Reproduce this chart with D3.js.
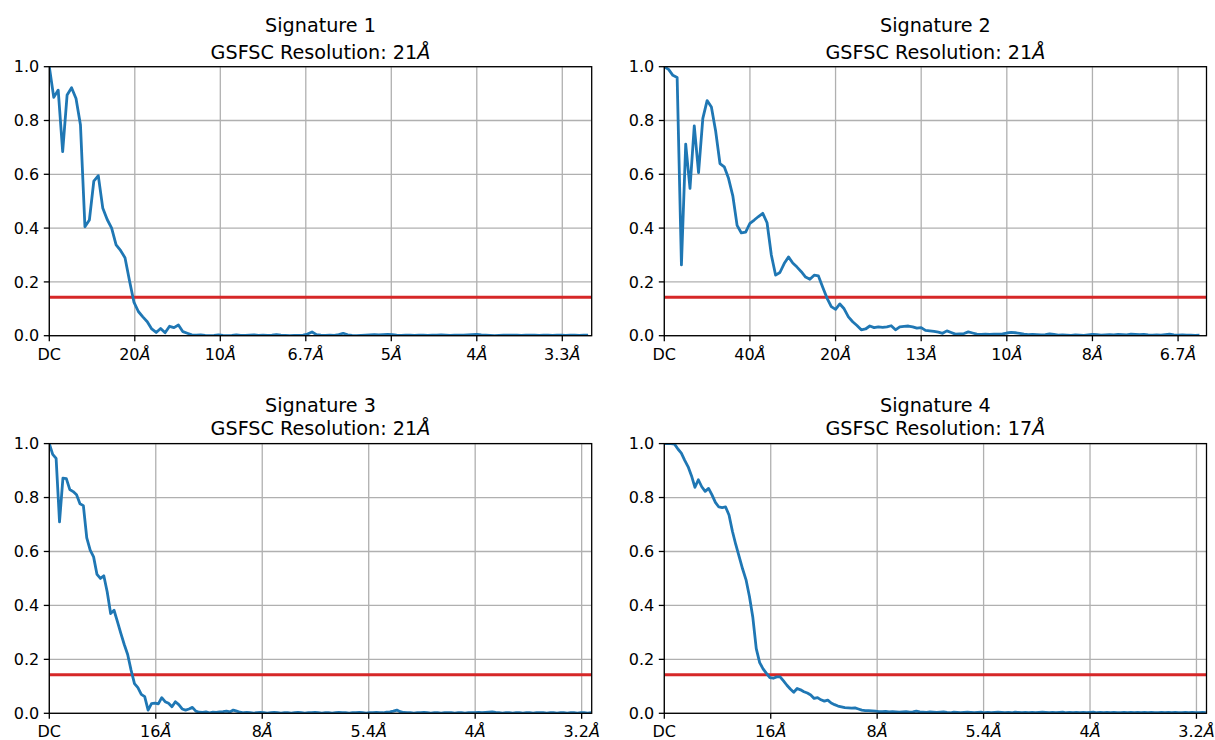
<!DOCTYPE html>
<html>
<head>
<meta charset="utf-8">
<script src="https://cdn.jsdelivr.net/npm/d3@7"></script>
<style>
  body { margin: 0; background: #ffffff; }
  svg { display: block; }
</style>
</head>
<body>
<svg id="fig" width="1215" height="740"></svg>
<script>
// Gold-standard FSC curves for four signatures, FSC = 0.143 cut-off shown in red.
const fscThreshold = 0.143;
const fscTicks = [0, 0.2, 0.4, 0.6, 0.8, 1.0];

// ---- Signature 1 ----
const sig1Title = "Signature 1";
const sig1Resolution = "21";
const sig1FreqStep = 1 / 384;        // Å⁻¹ per shell
const sig1FreqMax = 0.3172;
const sig1TickFreqs = [0, 0.05, 0.10, 0.15, 0.20, 0.25, 0.30];
const sig1TickLabels = ["DC", "20", "10", "6.7", "5", "4", "3.3"];
const sig1Fsc = [
  1.000, 0.886, 0.913, 0.684, 0.895, 0.922, 0.882, 0.783, 0.405, 0.430,
  0.575, 0.595, 0.475, 0.432, 0.400, 0.338, 0.317, 0.290, 0.205, 0.125,
  0.090, 0.070, 0.052, 0.025, 0.012, 0.027, 0.011, 0.035, 0.030, 0.040,
  0.015, 0.009, 0.003, 0.002, 0.003, 0.001, 0.000, 0.001, 0.003, 0.001,
  0.000, 0.001, 0.003, 0.001, 0.001, 0.002, 0.003, 0.001, 0.002, 0.001,
  0.002, 0.004, 0.002, 0.001, 0.000, 0.001, 0.001, 0.002, 0.006, 0.014,
  0.004, 0.002, 0.001, 0.002, 0.001, 0.004, 0.009, 0.003, 0.001, 0.000,
  0.001, 0.002, 0.003, 0.004, 0.003, 0.004, 0.005, 0.004, 0.002, 0.001,
  0.002, 0.002, 0.001, 0.002, 0.002, 0.001, 0.002, 0.002, 0.003, 0.002,
  0.001, 0.002, 0.002, 0.002, 0.003, 0.004, 0.005, 0.003, 0.002, 0.001,
  0.000, 0.001, 0.002, 0.002, 0.002, 0.002, 0.001, 0.002, 0.002, 0.002,
  0.001, 0.002, 0.002, 0.001, 0.002, 0.002, 0.001, 0.002, 0.002, 0.001,
  0.002, 0.002
];

// ---- Signature 2 ----
const sig2Title = "Signature 2";
const sig2Resolution = "21";
const sig2FreqStep = 1 / 800;
const sig2FreqMax = 0.1583;
const sig2TickFreqs = [0, 0.025, 0.05, 0.075, 0.10, 0.125, 0.15];
const sig2TickLabels = ["DC", "40", "20", "13", "10", "8", "6.7"];
const sig2Fsc = [
  1.000, 0.990, 0.968, 0.960, 0.263, 0.712, 0.548, 0.780, 0.606, 0.808,
  0.874, 0.850, 0.760, 0.640, 0.628, 0.585, 0.520, 0.410, 0.382, 0.385,
  0.418, 0.430, 0.443, 0.455, 0.420, 0.300, 0.225, 0.235, 0.268, 0.293,
  0.270, 0.255, 0.238, 0.218, 0.210, 0.225, 0.222, 0.180, 0.140, 0.108,
  0.098, 0.118, 0.100, 0.070, 0.052, 0.038, 0.022, 0.025, 0.036, 0.030,
  0.033, 0.031, 0.033, 0.037, 0.022, 0.033, 0.035, 0.036, 0.033, 0.028,
  0.030, 0.020, 0.018, 0.016, 0.013, 0.009, 0.018, 0.012, 0.006, 0.007,
  0.008, 0.014, 0.010, 0.006, 0.005, 0.006, 0.005, 0.006, 0.006, 0.007,
  0.010, 0.012, 0.011, 0.009, 0.006, 0.004, 0.005, 0.004, 0.003, 0.004,
  0.007, 0.005, 0.002, 0.003, 0.002, 0.001, 0.003, 0.002, 0.001, 0.003,
  0.005, 0.004, 0.002, 0.003, 0.004, 0.003, 0.005, 0.004, 0.003, 0.006,
  0.005, 0.004, 0.005, 0.003, 0.002, 0.003, 0.002, 0.004, 0.006, 0.003,
  0.002, 0.003, 0.002, 0.002, 0.001, 0.002
];

// ---- Signature 3 ----
const sig3Title = "Signature 3";
const sig3Resolution = "21";
const sig3FreqStep = 0.002;
const sig3FreqMax = 0.3184;
const sig3TickFreqs = [0, 0.0625, 0.125, 0.1875, 0.25, 0.3125];
const sig3TickLabels = ["DC", "16", "8", "5.4", "4", "3.2"];
const sig3Fsc = [
  1.000, 0.960, 0.945, 0.710, 0.872, 0.870, 0.830, 0.822, 0.810, 0.777,
  0.770, 0.650, 0.605, 0.580, 0.515, 0.500, 0.510, 0.450, 0.370, 0.382,
  0.340, 0.296, 0.255, 0.218, 0.160, 0.110, 0.095, 0.070, 0.062, 0.012,
  0.036, 0.038, 0.035, 0.058, 0.043, 0.037, 0.024, 0.043, 0.032, 0.016,
  0.012, 0.016, 0.022, 0.008, 0.004, 0.003, 0.005, 0.002, 0.004, 0.003,
  0.005, 0.006, 0.008, 0.005, 0.012, 0.008, 0.004, 0.002, 0.003, 0.002,
  0.001, 0.002, 0.003, 0.002, 0.001, 0.002, 0.003, 0.002, 0.001, 0.002,
  0.002, 0.001, 0.002, 0.003, 0.002, 0.001, 0.002, 0.002, 0.003, 0.002,
  0.001, 0.002, 0.002, 0.001, 0.002, 0.003, 0.002, 0.002, 0.001, 0.002,
  0.002, 0.003, 0.002, 0.001, 0.002, 0.002, 0.003, 0.002, 0.002, 0.004,
  0.005, 0.008, 0.012, 0.006, 0.003, 0.002, 0.002, 0.001, 0.002, 0.002,
  0.003, 0.002, 0.001, 0.002, 0.002, 0.001, 0.002, 0.002, 0.002, 0.001,
  0.002, 0.002, 0.001, 0.002, 0.002, 0.002, 0.003, 0.002, 0.003, 0.004,
  0.005, 0.003, 0.002, 0.001, 0.002, 0.002, 0.001, 0.002, 0.002, 0.001,
  0.002, 0.002, 0.001, 0.002, 0.002, 0.002, 0.001, 0.002, 0.002, 0.001,
  0.002, 0.002, 0.001, 0.002, 0.002, 0.001, 0.002, 0.002, 0.001, 0.002
];

// ---- Signature 4 ----
const sig4Title = "Signature 4";
const sig4Resolution = "17";
const sig4FreqStep = 0.002;
const sig4FreqMax = 0.3184;
const sig4TickFreqs = [0, 0.0625, 0.125, 0.1875, 0.25, 0.3125];
const sig4TickLabels = ["DC", "16", "8", "5.4", "4", "3.2"];
const sig4Fsc = [
  1.000, 1.000, 1.000, 0.998, 0.980, 0.965, 0.938, 0.914, 0.880, 0.838,
  0.866, 0.840, 0.823, 0.834, 0.810, 0.782, 0.765, 0.763, 0.765, 0.735,
  0.675, 0.625, 0.580, 0.535, 0.495, 0.433, 0.355, 0.240, 0.188, 0.165,
  0.148, 0.132, 0.130, 0.135, 0.135, 0.120, 0.104, 0.090, 0.078, 0.092,
  0.087, 0.080, 0.075, 0.068, 0.055, 0.058, 0.050, 0.045, 0.049, 0.038,
  0.032, 0.027, 0.024, 0.021, 0.020, 0.019, 0.020, 0.016, 0.012, 0.010,
  0.010, 0.009, 0.008, 0.006, 0.006, 0.007, 0.005, 0.006, 0.005, 0.004,
  0.005, 0.006, 0.004, 0.005, 0.008, 0.005, 0.004, 0.003, 0.005, 0.004,
  0.003, 0.004, 0.005, 0.003, 0.002, 0.004, 0.003, 0.002, 0.003, 0.004,
  0.003, 0.002, 0.003, 0.004, 0.002, 0.003, 0.002, 0.003, 0.004, 0.003,
  0.002, 0.003, 0.002, 0.004, 0.003, 0.002, 0.003, 0.002, 0.003, 0.002,
  0.003, 0.004, 0.003, 0.002, 0.003, 0.002, 0.003, 0.004, 0.002, 0.003,
  0.002, 0.003, 0.002, 0.003, 0.002, 0.003, 0.004, 0.002, 0.003, 0.002,
  0.003, 0.002, 0.003, 0.002, 0.002, 0.003, 0.002, 0.003, 0.002, 0.003,
  0.002, 0.003, 0.002, 0.003, 0.002, 0.002, 0.003, 0.002, 0.003, 0.002,
  0.003, 0.002, 0.002, 0.003, 0.002, 0.003, 0.002, 0.002, 0.003, 0.002
];

// ---- Layout (pixel boxes of each axes) ----
const layout = [
  { left: 49.3,  right: 591.7,  top: 66.7,  bottom: 335.7, title1: 32,  title2: 59 },
  { left: 664.3, right: 1206.5, top: 66.7,  bottom: 335.7, title1: 32,  title2: 59 },
  { left: 49.3,  right: 591.7,  top: 443.6, bottom: 713.3, title1: 412, title2: 434.5 },
  { left: 664.3, right: 1206.5, top: 443.6, bottom: 713.3, title1: 412, title2: 434.5 }
];

const panels = [
  { title: sig1Title, res: sig1Resolution, step: sig1FreqStep, xMax: sig1FreqMax, ticks: sig1TickFreqs, labels: sig1TickLabels, fsc: sig1Fsc },
  { title: sig2Title, res: sig2Resolution, step: sig2FreqStep, xMax: sig2FreqMax, ticks: sig2TickFreqs, labels: sig2TickLabels, fsc: sig2Fsc },
  { title: sig3Title, res: sig3Resolution, step: sig3FreqStep, xMax: sig3FreqMax, ticks: sig3TickFreqs, labels: sig3TickLabels, fsc: sig3Fsc },
  { title: sig4Title, res: sig4Resolution, step: sig4FreqStep, xMax: sig4FreqMax, ticks: sig4TickFreqs, labels: sig4TickLabels, fsc: sig4Fsc }
];

const FONT = "'DejaVu Sans', 'Liberation Sans', sans-serif";
const MATH_FONT = "'DejaVu Sans', sans-serif";
const TICK_SIZE = 16;
const TITLE_SIZE = 19.2;
const BLUE = "#1f77b4", RED = "#d62728", GRID = "#b0b0b0";

const svg = d3.select("#fig");
svg.append("rect").attr("width", 1215).attr("height", 740).attr("fill", "#ffffff");

// Writes "<number>Å" with the angstrom sign set in italic math style.
function angstromText(sel, num) {
  sel.append("tspan").text(num);
  sel.append("tspan").attr("font-family", MATH_FONT).attr("font-style", "italic").text("Å");
}

panels.forEach((p, k) => {
  const L = layout[k];
  const x = d3.scaleLinear().domain([0, p.xMax]).range([L.left, L.right]);
  const y = d3.scaleLinear().domain([0, 1]).range([L.bottom, L.top]);
  const g = svg.append("g");

  const clipId = "clip" + k;
  svg.append("clipPath").attr("id", clipId)
    .append("rect")
    .attr("x", L.left).attr("y", L.top)
    .attr("width", L.right - L.left).attr("height", L.bottom - L.top);

  // grid
  g.selectAll("line.vgrid").data(p.ticks).join("line")
    .attr("class", "vgrid")
    .attr("x1", d => x(d)).attr("x2", d => x(d))
    .attr("y1", L.top).attr("y2", L.bottom)
    .attr("stroke", GRID).attr("stroke-width", 1.3);
  g.selectAll("line.hgrid").data(fscTicks).join("line")
    .attr("class", "hgrid")
    .attr("x1", L.left).attr("x2", L.right)
    .attr("y1", d => y(d)).attr("y2", d => y(d))
    .attr("stroke", GRID).attr("stroke-width", 1.3);

  // 0.143 threshold
  g.append("line")
    .attr("x1", L.left).attr("x2", L.right)
    .attr("y1", y(fscThreshold)).attr("y2", y(fscThreshold))
    .attr("stroke", RED).attr("stroke-width", 2.8)
    .attr("clip-path", `url(#${clipId})`);

  // FSC curve
  const line = d3.line()
    .x((d, i) => x(i * p.step))
    .y(d => y(d));
  g.append("path")
    .datum(p.fsc)
    .attr("d", line)
    .attr("fill", "none")
    .attr("stroke", BLUE)
    .attr("stroke-width", 2.8)
    .attr("stroke-linejoin", "round")
    .attr("stroke-linecap", "butt")
    .attr("clip-path", `url(#${clipId})`);

  // spines
  g.append("rect")
    .attr("x", L.left).attr("y", L.top)
    .attr("width", L.right - L.left).attr("height", L.bottom - L.top)
    .attr("fill", "none").attr("stroke", "#000").attr("stroke-width", 1.3);

  // x ticks
  g.selectAll("line.xtick").data(p.ticks).join("line")
    .attr("class", "xtick")
    .attr("x1", d => x(d)).attr("x2", d => x(d))
    .attr("y1", L.bottom).attr("y2", L.bottom + 5.5)
    .attr("stroke", "#000").attr("stroke-width", 1.3);
  p.ticks.forEach((t, i) => {
    const txt = g.append("text")
      .attr("x", x(t)).attr("y", L.bottom + 23.8)
      .attr("text-anchor", "middle")
      .attr("font-family", FONT).attr("font-size", TICK_SIZE).attr("fill", "#000");
    if (p.labels[i] === "DC") txt.text("DC");
    else angstromText(txt, p.labels[i]);
  });

  // y ticks
  g.selectAll("line.ytick").data(fscTicks).join("line")
    .attr("class", "ytick")
    .attr("x1", L.left - 5.5).attr("x2", L.left)
    .attr("y1", d => y(d)).attr("y2", d => y(d))
    .attr("stroke", "#000").attr("stroke-width", 1.3);
  g.selectAll("text.ylab").data(fscTicks).join("text")
    .attr("class", "ylab")
    .attr("x", L.left - 10).attr("y", d => y(d))
    .attr("dy", "0.36em")
    .attr("text-anchor", "end")
    .attr("font-family", FONT).attr("font-size", TICK_SIZE).attr("fill", "#000")
    .text(d => d3.format(".1f")(d));

  // titles
  const cx = (L.left + L.right) / 2;
  g.append("text")
    .attr("x", cx).attr("y", L.title1)
    .attr("text-anchor", "middle")
    .attr("font-family", FONT).attr("font-size", TITLE_SIZE).attr("fill", "#000")
    .text(p.title);
  const t2 = g.append("text")
    .attr("x", cx).attr("y", L.title2)
    .attr("text-anchor", "middle")
    .attr("font-family", FONT).attr("font-size", TITLE_SIZE).attr("fill", "#000");
  angstromText(t2, "GSFSC Resolution: " + p.res);
});
</script>
</body>
</html>
